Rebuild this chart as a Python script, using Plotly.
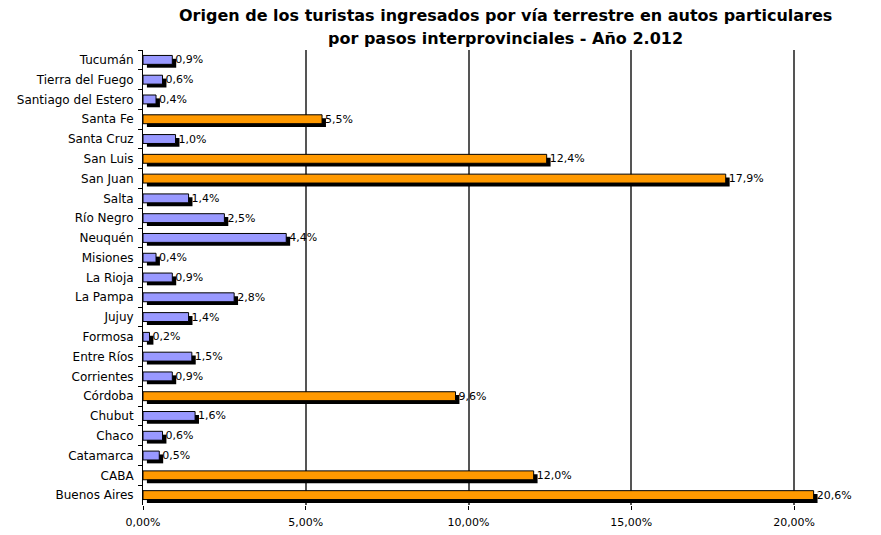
import plotly.graph_objects as go

provincias = ["Tucumán", "Tierra del Fuego", "Santiago del Estero", "Santa Fe", "Santa Cruz",
              "San Luis", "San Juan", "Salta", "Río Negro", "Neuquén", "Misiones", "La Rioja",
              "La Pampa", "Jujuy", "Formosa", "Entre Ríos", "Corrientes", "Córdoba", "Chubut",
              "Chaco", "Catamarca", "CABA", "Buenos Aires"]
porcentajes = [0.9, 0.6, 0.4, 5.5, 1.0, 12.4, 17.9, 1.4, 2.5, 4.4, 0.4, 0.9, 2.8, 1.4, 0.2,
               1.5, 0.9, 9.6, 1.6, 0.6, 0.5, 12.0, 20.6]
tick_vals = [0, 5, 10, 15, 20]
tick_text = ["0,00%", "5,00%", "10,00%", "15,00%", "20,00%"]
titulo_1 = "Origen de los turistas ingresados por vía terrestre en autos particulares"
titulo_2 = "por pasos interprovinciales - Año 2.012"

AZUL = "#9999FF"
NARANJA = "#FF9900"
colores = [NARANJA if v >= 5 else AZUL for v in porcentajes]
etiquetas = [f"{v:.1f}".replace(".", ",") + "%" for v in porcentajes]

BAR_W = 0.45
SHIFT_X = 0.12
SHIFT_Y = 0.17

fig = go.Figure()
# shadow
fig.add_trace(go.Bar(
    y=provincias, x=porcentajes, base=[SHIFT_X] * len(porcentajes), orientation="h",
    width=BAR_W, offset=-BAR_W / 2 + SHIFT_Y,
    marker=dict(color="#000000", line=dict(width=0)),
    hoverinfo="skip", showlegend=False,
))
# main bars
fig.add_trace(go.Bar(
    y=provincias, x=porcentajes, orientation="h",
    width=BAR_W, offset=-BAR_W / 2,
    marker=dict(color=colores, line=dict(color="#000000", width=1)),
    text=etiquetas, textposition="outside", cliponaxis=False, constraintext="none",
    textfont=dict(family="DejaVu Sans", size=11, color="#000000"),
    showlegend=False,
))

fig.update_layout(
    width=881, height=535,
    margin=dict(l=143, r=13, t=50, b=30, autoexpand=False),
    paper_bgcolor="white", plot_bgcolor="white",
    barmode="overlay",
    font=dict(family="DejaVu Sans", size=11, color="#000000"),
    annotations=[
        dict(text=f"<b>{titulo_1}</b>", xref="paper", yref="paper", x=0.5, y=1,
             xanchor="center", yanchor="middle", yshift=35, showarrow=False,
             font=dict(family="DejaVu Sans", size=16, color="#000000")),
        dict(text=f"<b>{titulo_2}</b>", xref="paper", yref="paper", x=0.5, y=1,
             xanchor="center", yanchor="middle", yshift=12, showarrow=False,
             font=dict(family="DejaVu Sans", size=16, color="#000000")),
    ],
)
fig.update_xaxes(
    range=[0, 22.27], tickvals=tick_vals, ticktext=tick_text,
    showgrid=True, gridcolor="#555555", gridwidth=2,
    zeroline=False, showline=False, ticks="outside", ticklen=4, tickcolor="#000000",
    tickfont=dict(family="DejaVu Sans", size=11), ticklabelstandoff=3, automargin=False,
)
fig.update_yaxes(
    categoryorder="array", categoryarray=provincias, autorange="reversed",
    showline=True, linecolor="#000000", linewidth=1,
    ticks="outside", ticklen=4, tickcolor="#000000", tickson="boundaries",
    showgrid=False, tickfont=dict(family="DejaVu Sans", size=12),
    ticklabelstandoff=6, automargin=False,
)

fig.write_html("out.html")
